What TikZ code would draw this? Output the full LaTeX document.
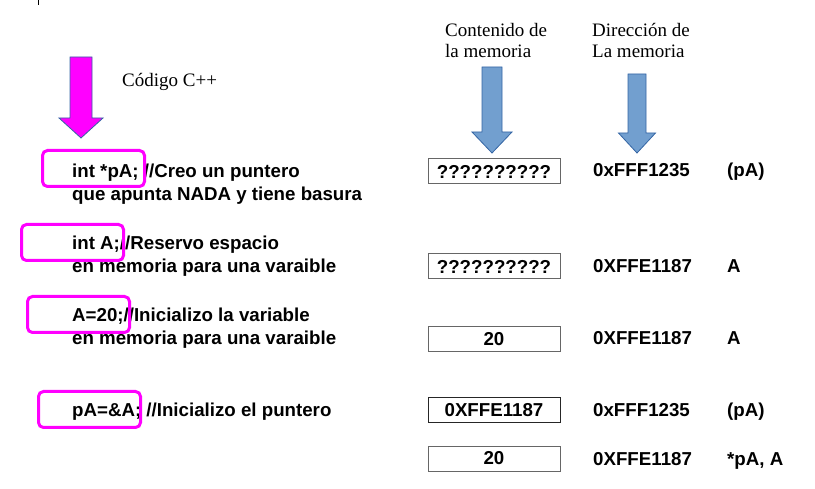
\documentclass[tikz,border=0pt]{standalone}
\usepackage{fontspec}
\setmainfont{Liberation Serif}
\setsansfont{Liberation Sans}
\usetikzlibrary{positioning}
\definecolor{rosa}{HTML}{FF00FF}
\definecolor{celeste}{HTML}{729FCF}
\definecolor{azul}{HTML}{3465A4}
\newcommand{\Sans}{\sffamily\bfseries\fontsize{18.7}{23}\selectfont}
\newcommand{\Serif}{\rmfamily\fontsize{19}{21}\selectfont}
% block arrow: style, x, top, neck, tip, half shaft, half head
\newcommand{\Flecha}[7]{%
  \draw[#1] ({#2-#6},#3) -- ({#2+#6},#3) -- ({#2+#6},#4) -- ({#2+#7},#4)
    -- (#2,#5) -- ({#2-#7},#4) -- ({#2-#6},#4) -- cycle;}

\begin{document}
\begin{tikzpicture}[x=1pt,y=-1pt,
      code/.style={font=\Sans,inner sep=0pt,anchor=base west},
      cabecera/.style={font=\Serif,inner sep=0pt,anchor=base west},
      celda/.style={draw=gray!80!black,line width=1pt,minimum width=132pt,
        minimum height=25pt,inner sep=0pt,font=\Sans},
      marca/.style={draw=rosa,line width=3pt,rounded corners=5pt},
      flecha rosa/.style={fill=rosa,draw=azul,line width=0.8pt},
      flecha azul/.style={fill=celeste,draw=azul,line width=0.8pt}]
  \useasboundingbox (0,0) rectangle (815,489);
  \draw[line width=0.8pt] (38,0) -- (38,5);

  % headers
  \node[cabecera] (h0) at (122,87) {Código C++};
  \node[cabecera] (h1) at (445,37) {Contenido de};
  \node[cabecera] (h1b) at ([yshift=-21pt]h1.base west) {la memoria};
  \node[cabecera] (h2) at (592,37) {Dirección de};
  \node[cabecera] (h2b) at ([yshift=-21pt]h2.base west) {La memoria};
  \Flecha{flecha rosa}{81}{57}{118}{138}{11}{22}
  \Flecha{flecha azul}{492}{67}{132}{153}{10}{20}
  \Flecha{flecha azul}{637}{74}{133}{153}{9}{18.5}

  % code
  \node[code] (1) at (72,178) {int *pA; //Creo un puntero};
  \node[code] (1b) at ([yshift=-23pt]1.base west) {que apunta NADA y tiene basura};
  \node[code] (2) at (72,250) {int A;//Reservo espacio};
  \node[code] (2b) at ([yshift=-23pt]2.base west) {en memoria para una varaible};
  \node[code] (3) at (72,322) {A=20;//Inicializo la variable};
  \node[code] (3b) at ([yshift=-23pt]3.base west) {en memoria para una varaible};
  \node[code] (4) at (72,417) {pA=\&A; //Inicializo el puntero};

  % memory
  \node[celda] (m1) at (494,171.5) {??????????};
  \node[celda] (m2) at (494,266.5) {??????????};
  \node[celda] (m3) at (494,339) {20};
  \node[celda,draw=black!85] (m4) at (494,410) {0XFFE1187};
  \node[celda] (m5) at (494,458.5) {20};
  \node[code] (d1) at (593,177) {0xFFF1235};
  \node[code] (d2) at (593,273) {0XFFE1187};
  \node[code] (d3) at (593,345) {0XFFE1187};
  \node[code] (d4) at (593,417) {0xFFF1235};
  \node[code] (d5) at (593,465) {0XFFE1187};
  \node[code] (v1) at (727,177) {(pA)};
  \node[code] (v2) at (727,273) {A};
  \node[code] (v3) at (727,345) {A};
  \node[code] (v4) at (727,417) {(pA)};
  \node[code] (v5) at (727,465) {*pA, A};

  % highlights
  \draw[marca] (42.5,150.5) rectangle (144.5,186.5);
  \draw[marca] (21.5,224.5) rectangle (123.5,260.5);
  \draw[marca] (27.5,296.5) rectangle (129.5,332.5);
  \draw[marca] (38.5,391.5) rectangle (140.5,427.5);
\end{tikzpicture}
\end{document}
